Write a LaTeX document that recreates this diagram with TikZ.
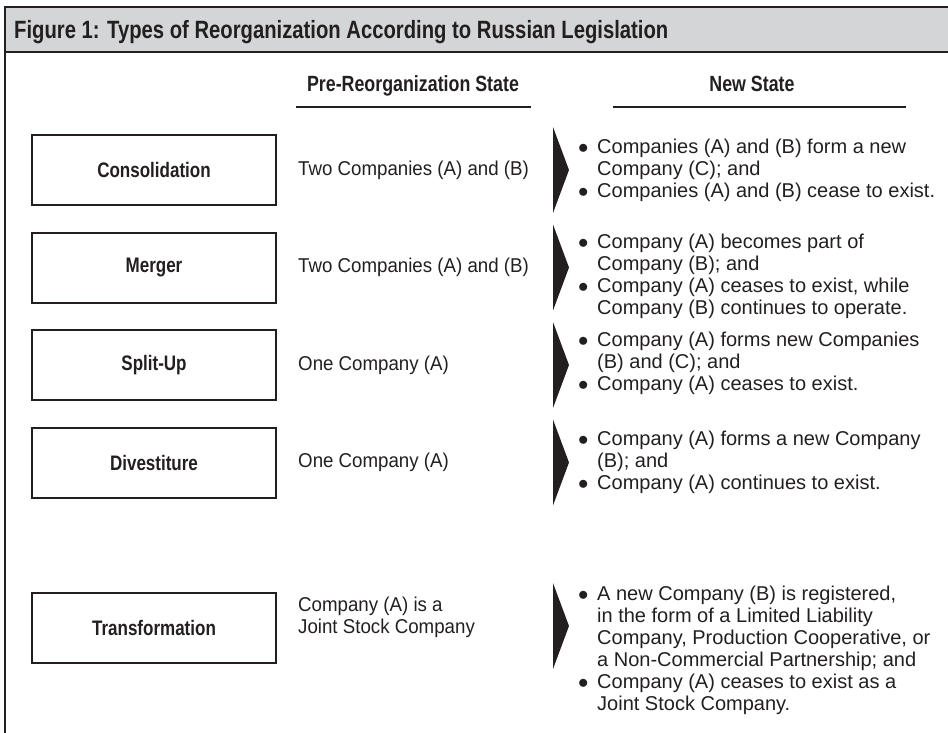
\documentclass[tikz,border=0pt]{standalone}
\usepackage{fontspec}
\setmainfont{Liberation Sans}[FakeStretch=0.935]
\newfontfamily\condfont{Liberation Sans}[FakeStretch=0.81]
\newfontfamily\listfont{Liberation Sans}
\usetikzlibrary{positioning}
\definecolor{inkgray}{HTML}{231F20}
\definecolor{bandgray}{HTML}{D4D5D6}

\newcommand{\bpt}{\makebox[19pt][l]{$\bullet$}}
\newcommand{\cnt}{\hspace*{19pt}}

\begin{document}
\begin{tikzpicture}[x=1pt,y=-1pt,color=inkgray,
    headfont/.style={font=\condfont\bfseries\fontsize{21}{24}\selectfont},
    typebox/.style={draw, line width=2pt, minimum width=244pt,
        minimum height=70pt, headfont},
    colhead/.style={font=\condfont\bfseries\fontsize{22}{25}\selectfont,
        anchor=base, inner sep=0pt},
    prestate/.style={align=left, inner sep=0pt, font=\fontsize{20}{22}\selectfont},
    newstate/.style={align=left, inner sep=0pt, anchor=west,
        font=\listfont\fontsize{20}{22}\selectfont},
    tip/.style={fill=inkgray},
    rule/.style={line width=2.5pt}]

    \useasboundingbox (0,0) rectangle (948,733);

    % frame and title band
    \fill[bandgray] (5,7) rectangle (948,52);
    \draw[line width=2pt] (5,52) -- (948,52);
    \draw[line width=2.5pt] (5,733) -- (5,7) -- (948,7);
    \node[font=\condfont\bfseries\fontsize{25}{28}\selectfont,
        anchor=base west, inner sep=0pt] (title) at (14,39)
        {Figure 1: Types of Reorganization According to Russian Legislation};

    % column heads
    \node[colhead] (prehead) at (413,92) {Pre-Reorganization State};
    \node[colhead] (newhead) at (752,92) {New State};
    \draw[rule] (296,107) -- (531,107);
    \draw[rule] (613,107) -- (906,107);

    % consolidation
    \node[typebox] (cons) at (154,170) {Consolidation};
    \node[prestate, right=21pt of cons] (cons-pre) {Two Companies (A) and (B)};
    \fill[tip] (553,127) -- (569,170) -- (553,213) -- cycle;
    \node[newstate] (cons-new) at (578,170) {\bpt Companies (A) and (B) form a new\\
        \cnt Company (C); and\\
        \bpt Companies (A) and (B) cease to exist.};

    % merger
    \node[typebox] (merg) at (154,267.5) {Merger};
    \node[prestate, right=21pt of merg] (merg-pre) {Two Companies (A) and (B)};
    \fill[tip] (553,224.5) -- (569,267.5) -- (553,310.5) -- cycle;
    \node[newstate] (merg-new) at (578,276) {\bpt Company (A) becomes part of\\
        \cnt Company (B); and\\
        \bpt Company (A) ceases to exist, while\\
        \cnt Company (B) continues to operate.};

    % split-up
    \node[typebox] (split) at (154,365) {Split-Up};
    \node[prestate, right=21pt of split] (split-pre) {One Company (A)};
    \fill[tip] (553,322) -- (569,365) -- (553,408) -- cycle;
    \node[newstate] (split-new) at (578,363) {\bpt Company (A) forms new Companies\\
        \cnt (B) and (C); and\\
        \bpt Company (A) ceases to exist.};

    % divestiture
    \node[typebox] (dive) at (154,462.5) {Divestiture};
    \node[prestate, right=21pt of dive] (dive-pre) {One Company (A)};
    \fill[tip] (553,419.5) -- (569,462.5) -- (553,505.5) -- cycle;
    \node[newstate] (dive-new) at (578,462) {\bpt Company (A) forms a new Company\\
        \cnt (B); and\\
        \bpt Company (A) continues to exist.};

    % transformation
    \node[typebox] (trans) at (154,628) {Transformation};
    \node[prestate, right=21pt of trans, yshift=11pt] (trans-pre)
        {Company (A) is a\\ Joint Stock Company};
    \fill[tip] (553,583) -- (569,626) -- (553,669) -- cycle;
    \node[newstate] (trans-new) at (578,650) {\bpt A new Company (B) is registered,\\
        \cnt in the form of a Limited Liability\\
        \cnt Company, Production Cooperative, or\\
        \cnt a Non-Commercial Partnership; and\\
        \bpt Company (A) ceases to exist as a\\
        \cnt Joint Stock Company.};

\end{tikzpicture}
\end{document}
